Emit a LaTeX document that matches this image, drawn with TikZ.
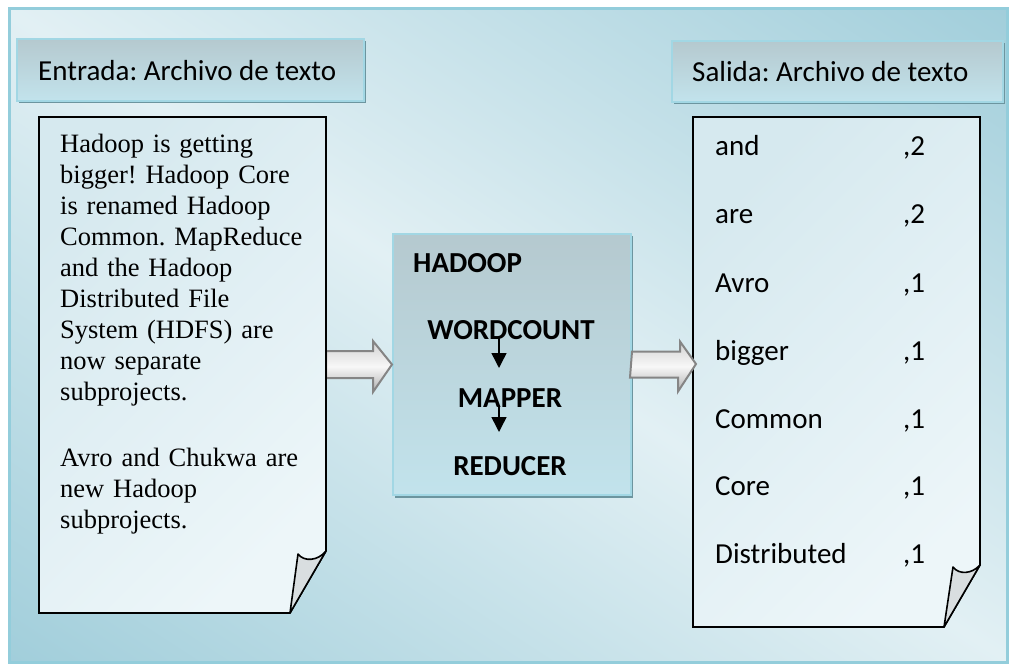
\documentclass[tikz,border=0pt]{standalone}
\usepackage{fontspec}
\setmainfont{Liberation Serif}
\newfontfamily\calfont{Carlito}
\usetikzlibrary{arrows.meta,calc}
\definecolor{frameline}{HTML}{93CDDB}
\definecolor{bgdark}{HTML}{90C5D4}
\definecolor{bglight}{HTML}{E2F0F4}
\definecolor{hdrtop}{HTML}{B5C9CF}
\definecolor{hdrbot}{HTML}{C2E3EC}
\definecolor{hdrline}{HTML}{A2D7E4}
\definecolor{shadowc}{HTML}{6C959F}
\definecolor{doclight}{HTML}{EDF6F9}
\definecolor{docdark}{HTML}{D6E9EF}
\definecolor{curlc}{HTML}{D9DEE0}
\definecolor{arrline}{HTML}{858585}
\pgfdeclareverticalshading{bgshade}{100bp}{color(0bp)=(bgdark); color(6bp)=(bgdark); color(50bp)=(bglight); color(94bp)=(bgdark); color(100bp)=(bgdark)}
\tikzset{
  hdr/.style={draw=hdrline, line width=2pt, top color=hdrtop, bottom color=hdrbot, anchor=north west, inner sep=0pt},
  shadowbox/.style={fill=shadowc},
  docshape/.style={draw=black, line width=1.6pt, left color=docdark, right color=doclight, shading angle=45},
  curlshape/.style={draw=black, line width=1.6pt, fill=curlc, line join=round},
  blockarrow/.style={draw=arrline, line width=2pt, top color=gray!35, bottom color=gray!62, middle color=gray!6},
  flow/.style={draw=black, line width=1.5pt, -{Triangle[width=15pt,length=15pt]}},
  hdrtext/.style={font=\calfont\fontsize{29}{34}\selectfont, anchor=base west, inner sep=0pt},
  boldtext/.style={font=\calfont\bfseries\fontsize{29}{34}\selectfont, anchor=base, inner sep=0pt},
  wordtext/.style={font=\calfont\fontsize{29}{34}\selectfont, anchor=base west, inner sep=0pt},
  serifbody/.style={font=\fontsize{26.5}{31}\selectfont, anchor=base west, inner sep=0pt, text width=265pt, align=left}
}
\begin{document}
\frenchspacing
\begin{tikzpicture}[x=1pt,y=-1pt]
\useasboundingbox (0,0) rectangle (1009,664);
% background frame
\shade[shading=bgshade, shading angle=-33] (9,8) rectangle (1007,662);
\draw[frameline, line width=3pt] (9,8) rectangle (1007,662);
% headers
\fill[shadowbox] (19,41) rectangle (366,103);
\node[hdr, minimum width=347pt, minimum height=62pt] (inhdr) at (16,38) {};
\node[hdrtext] (intext) at (38,80) {Entrada: Archivo de texto};
\fill[shadowbox] (674,43) rectangle (1005,104);
\node[hdr, minimum width=331pt, minimum height=61pt] (outhdr) at (671,40) {};
\node[hdrtext] (outtext) at (692,81) {Salida: Archivo de texto};
% central box
\fill[shadowbox] (395,236) rectangle (633,498);
\node[hdr, minimum width=238pt, minimum height=261pt] (hd) at (392,233) {};
\node[boldtext, anchor=base west] (hadoop) at (413,272) {HADOOP};
\node[boldtext] (wc) at (511,339) {WORDCOUNT};
\node[boldtext] (mp) at (510,407) {MAPPER};
\node[boldtext] (rd) at (510,475) {REDUCER};
\draw[flow] (wc.base) ++(-12,-1) -- ++(0,30);
\draw[flow] (mp.base) ++(-11,-2) -- ++(0,27);
% left block arrow
\coordinate (ldocE) at (326,364);
\draw[blockarrow] (ldocE) ++(0,-13) -- ++(47,0) -- ++(0,-10) -- (hd.west) -- ++(-19,27.5) -- ++(0,-14) -- ++(-47,0) -- cycle;
% left document
\draw[docshape] (39,117) -- (326,117) -- (326,551) -- (290,613) -- (39,613) -- cycle;
\draw[curlshape] (290,613) -- (298,554) .. controls (304,562) and (318,561) .. (326,551) -- cycle;
\node[serifbody] (intxt) at (60,152.5) {Hadoop is getting\\ bigger! Hadoop Core\\ is renamed Hadoop\\ Common. MapReduce\\ and the Hadoop\\ Distributed File\\ System (HDFS) are\\ now separate\\ subprojects.\\[35pt] Avro and Chukwa are\\ new Hadoop\\ subprojects.};
% right document
\draw[docshape] (693,117) -- (980,117) -- (980,565) -- (944,627) -- (693,627) -- cycle;
\draw[curlshape] (944,627) -- (953,567) .. controls (959,575) and (972,574) .. (980,565) -- cycle;
\coordinate (rdocW) at (696,364);
\draw[blockarrow] (hd.east) ++(0,-13) -- ++(48,0) -- ++(0,-10) -- (rdocW) -- ++(-18,27.5) -- ++(0,-14) -- ++(-48,0) -- cycle;
\node[wordtext] (w1) at (715,155) {and};      \node[wordtext] (c1) at (903,155) {,2};
\node[wordtext] (w2) at (715,223) {are};      \node[wordtext] (c2) at (903,223) {,2};
\node[wordtext] (w3) at (715,292) {Avro};     \node[wordtext] (c3) at (903,292) {,1};
\node[wordtext] (w4) at (715,360) {bigger};   \node[wordtext] (c4) at (903,360) {,1};
\node[wordtext] (w5) at (715,428) {Common};   \node[wordtext] (c5) at (903,428) {,1};
\node[wordtext] (w6) at (715,495) {Core};     \node[wordtext] (c6) at (903,495) {,1};
\node[wordtext] (w7) at (715,563) {Distributed}; \node[wordtext] (c7) at (903,563) {,1};
\end{tikzpicture}
\end{document}
